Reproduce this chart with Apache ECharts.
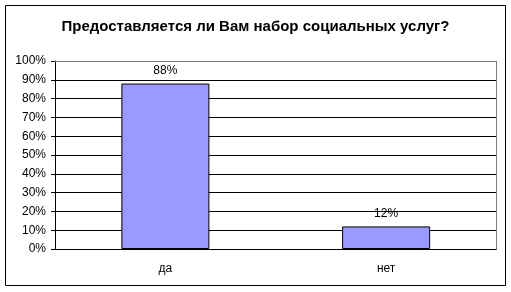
<!DOCTYPE html>
<html><head><meta charset="utf-8">
<script src="https://cdn.jsdelivr.net/npm/echarts@6/dist/echarts.min.js"></script>
<style>html,body{margin:0;padding:0;background:#fff}#c{width:511px;height:292px}</style>
</head><body><div id="c"></div>
<script>
const titleText = 'Предоставляется ли Вам набор социальных услуг?';
const categories = ['да', 'нет'];
const values = [88, 12];
const yTicks = [0,10,20,30,40,50,60,70,80,90,100];

const chart = echarts.init(document.getElementById('c'), null, {renderer:'canvas'});
chart.setOption({
  animation: false,
  backgroundColor: '#fff',
  title: {text: titleText, left: 'center', top: 14,
    textStyle: {fontFamily: 'Arial, Liberation Sans', fontSize: 15, fontWeight: 'bold', color: '#000'}},
  graphic: [
    {type: 'rect', shape: {x: 5.5, y: 5.5, width: 500, height: 280}, style: {fill: 'none', stroke: '#000', lineWidth: 1}, z: 100},
    {type: 'line', shape: {x1: 55, y1: 61.5, x2: 496.5, y2: 61.5}, style: {stroke: '#808080', lineWidth: 1}, z: 100},
    {type: 'line', shape: {x1: 496.5, y1: 61, x2: 496.5, y2: 249.5}, style: {stroke: '#808080', lineWidth: 1}, z: 100}
  ],
  grid: {left: 55, right: 14.5, top: 61, bottom: 43, containLabel: false},
  xAxis: {type: 'category', data: categories,
    axisLine: {lineStyle: {color: '#000'}}, axisTick: {show: false},
    axisLabel: {fontFamily: 'Arial, Liberation Sans', fontSize: 12, color: '#000', margin: 14}},
  yAxis: {type: 'value', min: 0, max: 100, interval: 10,
    axisLine: {show: true, lineStyle: {color: '#000'}},
    axisTick: {show: true, length: 4, lineStyle: {color: '#000'}},
    splitLine: {lineStyle: {color: '#000'}},
    axisLabel: {fontFamily: 'Arial, Liberation Sans', fontSize: 12, color: '#000', margin: 9,
      formatter: v => yTicks.includes(v) ? v + '%' : ''}},
  series: [{type: 'bar', data: values, barWidth: 88,
    itemStyle: {color: '#9999ff', borderColor: '#000', borderWidth: 1},
    label: {show: true, position: 'top', distance: 7, formatter: p => p.value + '%',
      fontFamily: 'Arial, Liberation Sans', fontSize: 12, color: '#000'}}]
});
</script></body></html>
